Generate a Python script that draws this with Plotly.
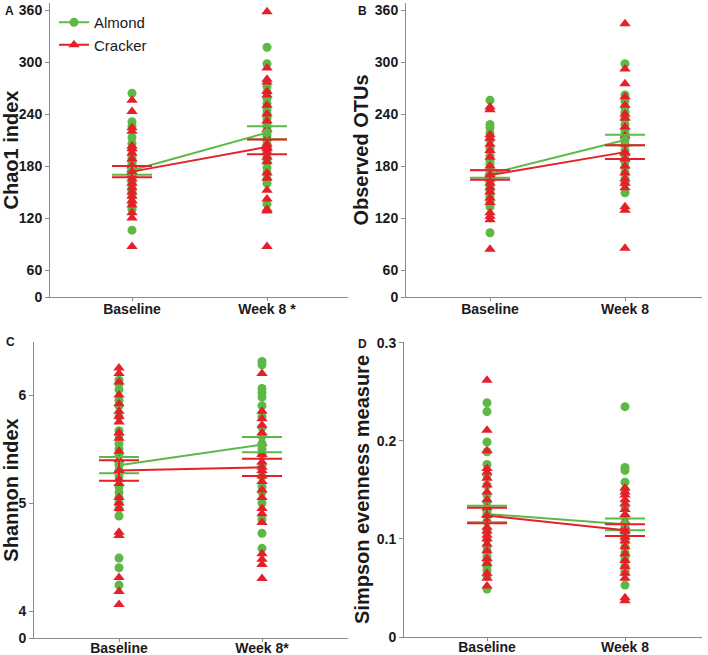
import plotly.graph_objects as go

# categories
groups = ["Baseline", "Week 8"]

# panel A - Chao1 index
a_base_alm = [264, 231, 226, 213, 206, 200, 192, 189, 185, 182, 178, 175, 172, 168, 165, 160, 155, 150, 145, 137, 130, 106]
a_base_crk = [256, 243, 224, 220, 203, 200, 195, 188, 180, 176, 170, 165, 160, 155, 150, 145, 140, 135, 126, 120, 87]
a_wk8_alm = [317, 298, 272, 265, 258, 252, 245, 240, 235, 230, 225, 220, 215, 210, 205, 200, 195, 190, 185, 178, 172, 165, 160, 136]
a_wk8_crk = [358, 293, 280, 277, 266, 262, 250, 240, 232, 222, 212, 205, 200, 196, 190, 185, 172, 166, 152, 142, 130, 128, 87]
a_mean_alm = [175, 218.5]
a_se_alm = [5, 7.5]
a_mean_crk = [173.5, 202]
a_se_crk = [6.5, 8.5]

# panel B - Observed OTUs
b_base_alm = [256, 228, 224, 218, 210, 200, 192, 186, 182, 175, 170, 165, 160, 155, 150, 145, 140, 133, 103]
b_base_crk = [248, 245, 216, 212, 205, 198, 190, 180, 172, 165, 160, 155, 150, 143, 138, 126, 122, 118, 84]
b_wk8_alm = [298, 262, 255, 248, 242, 235, 228, 222, 218, 212, 205, 198, 192, 185, 178, 172, 165, 160, 149]
b_wk8_crk = [344, 292, 275, 260, 250, 240, 235, 225, 215, 205, 195, 188, 180, 172, 165, 160, 155, 133, 129, 85]
b_mean_alm = [171, 210]
b_se_alm = [4.5, 6]
b_mean_crk = [169.5, 196]
b_se_crk = [5.5, 8]

# panel C - Shannon index
c_base_alm = [6.14, 6.10, 6.05, 5.95, 5.90, 5.80, 5.67, 5.62, 5.55, 5.50, 5.45, 5.38, 5.30, 5.25, 5.15, 5.10, 5.05, 5.00, 4.95, 4.88, 4.49, 4.40, 4.24]
c_base_crk = [6.25, 6.20, 6.12, 6.00, 5.92, 5.85, 5.80, 5.75, 5.65, 5.60, 5.48, 5.40, 5.30, 5.22, 5.18, 5.05, 5.00, 4.95, 4.73, 4.70, 4.31, 4.18, 4.06]
c_wk8_alm = [6.31, 6.28, 6.06, 6.02, 5.98, 5.90, 5.80, 5.70, 5.62, 5.55, 5.50, 5.45, 5.35, 5.25, 5.15, 5.10, 5.00, 4.85, 4.72, 4.58]
c_wk8_crk = [6.20, 5.85, 5.78, 5.72, 5.65, 5.55, 5.45, 5.38, 5.30, 5.25, 5.20, 5.12, 5.05, 4.95, 4.90, 4.82, 4.53, 4.48, 4.43, 4.30]
c_mean_alm = [5.35, 5.54]
c_se_alm = [0.075, 0.07]
c_mean_crk = [5.30, 5.33]
c_se_crk = [0.095, 0.08]

# panel D - Simpson evenness measure
d_base_alm = [0.239, 0.230, 0.199, 0.189, 0.176, 0.165, 0.155, 0.145, 0.138, 0.128, 0.118, 0.108, 0.100, 0.092, 0.087, 0.082, 0.077, 0.072, 0.068, 0.062, 0.049]
d_base_crk = [0.262, 0.211, 0.190, 0.172, 0.168, 0.162, 0.155, 0.148, 0.140, 0.132, 0.125, 0.118, 0.112, 0.108, 0.104, 0.100, 0.095, 0.088, 0.080, 0.075, 0.065, 0.060, 0.052]
d_wk8_alm = [0.235, 0.173, 0.170, 0.158, 0.150, 0.133, 0.122, 0.112, 0.105, 0.098, 0.092, 0.086, 0.082, 0.078, 0.072, 0.068, 0.066, 0.053]
d_wk8_crk = [0.152, 0.148, 0.145, 0.140, 0.136, 0.130, 0.125, 0.118, 0.112, 0.108, 0.102, 0.098, 0.092, 0.085, 0.078, 0.072, 0.065, 0.060, 0.040, 0.037]
d_mean_alm = [0.1255, 0.115]
d_se_alm = [0.0085, 0.006]
d_mean_crk = [0.124, 0.109]
d_se_crk = [0.008, 0.006]

GREEN = "#5CB946"
RED = "#E5202A"
AXIS = "#8a8a8a"
FONT = "Liberation Sans, Arial, sans-serif"

fig = go.Figure()


def add_panel(n, base_alm, base_crk, wk8_alm, wk8_crk, m_alm, se_alm, m_crk, se_crk, legend):
    xa, ya = "x%d" % n if n > 1 else "x", "y%d" % n if n > 1 else "y"
    # individual subjects
    fig.add_trace(go.Scatter(
        x=[groups[0]] * len(base_alm) + [groups[1]] * len(wk8_alm), y=base_alm + wk8_alm,
        mode="markers", marker=dict(symbol="circle", size=9, color=GREEN),
        showlegend=False, xaxis=xa, yaxis=ya))
    fig.add_trace(go.Scatter(
        x=[groups[0]] * len(base_crk) + [groups[1]] * len(wk8_crk), y=base_crk + wk8_crk,
        mode="markers", marker=dict(symbol="triangle-up", size=10, color=RED),
        showlegend=False, xaxis=xa, yaxis=ya))
    # means +- SE
    fig.add_trace(go.Scatter(
        x=groups, y=m_alm, name="Almond", mode="lines+markers",
        line=dict(color=GREEN, width=2), marker=dict(symbol="circle", size=9, color=GREEN),
        error_y=dict(type="data", array=se_alm, color=GREEN, thickness=2, width=20),
        showlegend=legend, xaxis=xa, yaxis=ya))
    fig.add_trace(go.Scatter(
        x=groups, y=m_crk, name="Cracker", mode="lines+markers",
        line=dict(color=RED, width=2), marker=dict(symbol="triangle-up", size=10, color=RED),
        error_y=dict(type="data", array=se_crk, color=RED, thickness=2, width=20),
        showlegend=legend, xaxis=xa, yaxis=ya))


add_panel(1, a_base_alm, a_base_crk, a_wk8_alm, a_wk8_crk, a_mean_alm, a_se_alm, a_mean_crk, a_se_crk, True)
add_panel(2, b_base_alm, b_base_crk, b_wk8_alm, b_wk8_crk, b_mean_alm, b_se_alm, b_mean_crk, b_se_crk, False)
add_panel(3, c_base_alm, c_base_crk, c_wk8_alm, c_wk8_crk, c_mean_alm, c_se_alm, c_mean_crk, c_se_crk, False)
add_panel(4, d_base_alm, d_base_crk, d_wk8_alm, d_wk8_crk, d_mean_alm, d_se_alm, d_mean_crk, d_se_crk, False)

W, H = 708, 655


def xaxis(left, right, cat_l, cat_r, week_label, anchor, lab_shift):
    # category positions: Baseline at px cat_l, Week 8 at px cat_r
    step = cat_r - cat_l
    return dict(
        domain=[left / W, right / W], type="category", categoryorder="array", categoryarray=groups,
        range=[-(cat_l - left) / step, 1 + (right - cat_r) / step], anchor=anchor,
        tickvals=groups, ticktext=["Baseline", week_label], automargin=False,
        showline=True, linecolor=AXIS, linewidth=1, ticks="outside", ticklen=3, tickcolor=AXIS,
        ticklabelstandoff=lab_shift,
        showgrid=False, zeroline=False, fixedrange=True,
        tickfont=dict(family=FONT, size=14, color="#1a1a1a", weight="bold"))


def yaxis(bottom, top, title, lo, hi, tickvals, ticktext, anchor, standoff):
    return dict(
        domain=[1 - bottom / H, 1 - top / H], range=[lo, hi], anchor=anchor, automargin=False,
        tickvals=tickvals, ticktext=ticktext,
        showline=True, linecolor=AXIS, linewidth=1, ticks="outside", ticklen=4, tickcolor=AXIS,
        showgrid=False, zeroline=False,
        title=dict(text=title, standoff=standoff,
                   font=dict(family=FONT, size=20, color="#1a1a1a", weight="bold")),
        tickfont=dict(family=FONT, size=14, color="#1a1a1a", weight="bold"))


# broken axes: "0" sits 27 px below the first real tick
otu_ticks = [60, 120, 180, 240, 300, 360]
otu_zero = 60 - 27 * 60 / 52
otu_top = 360 + 7 * 60 / 52
sh_ticks = [4, 5, 6]
sh_zero = 4 - 27 / 108

fig.update_layout(
    width=W, height=H, margin=dict(l=0, r=0, t=0, b=0),
    plot_bgcolor="white", paper_bgcolor="white",
    font=dict(family=FONT),
    xaxis=xaxis(50, 348, 132, 267, "Week 8 *", "y", -4),
    xaxis2=xaxis(406, 702, 490, 625, "Week 8", "y2", -4),
    xaxis3=xaxis(34, 348, 119, 262, "Week 8*", "y3", -6),
    xaxis4=xaxis(404, 702, 487, 625, "Week 8", "y4", -6),
    yaxis=yaxis(297, 3, "Chao1 index", otu_zero, otu_top, [otu_zero] + otu_ticks,
                ["0"] + [str(t) for t in otu_ticks], "x", 3),
    yaxis2=yaxis(297, 3, "Observed OTUs", otu_zero, otu_top, [otu_zero] + otu_ticks,
                 ["0"] + [str(t) for t in otu_ticks], "x2", 0),
    yaxis3=yaxis(638, 342, "Shannon index", sh_zero, 4 + 269 / 108, [sh_zero] + sh_ticks,
                 ["0"] + [str(t) for t in sh_ticks], "x3", 5),
    yaxis4=yaxis(637, 342, "Simpson evenness measure", 0, 0.301, [0, 0.1, 0.2, 0.3],
                 ["0", "0.1", "0.2", "0.3"], "x4", 1),
    legend=dict(x=54 / W, y=1 - 6 / H, xanchor="left", yanchor="top", bgcolor="rgba(0,0,0,0)",
                font=dict(family=FONT, size=15, color="#1a1a1a"), itemwidth=30, tracegroupgap=0),
    showlegend=True,
)

for letter, px, py in [("A", 3, 2), ("B", 356, 2), ("C", 4, 333), ("D", 356, 335)]:
    fig.add_annotation(text="<b>%s</b>" % letter, x=px / W, y=1 - py / H, xref="paper", yref="paper",
                       xanchor="left", yanchor="top", showarrow=False,
                       font=dict(family=FONT, size=12, color="#1a1a1a"))

fig.write_html("out.html", config={"displayModeBar": False},
               post_script="document.body.style.margin='0px';")
